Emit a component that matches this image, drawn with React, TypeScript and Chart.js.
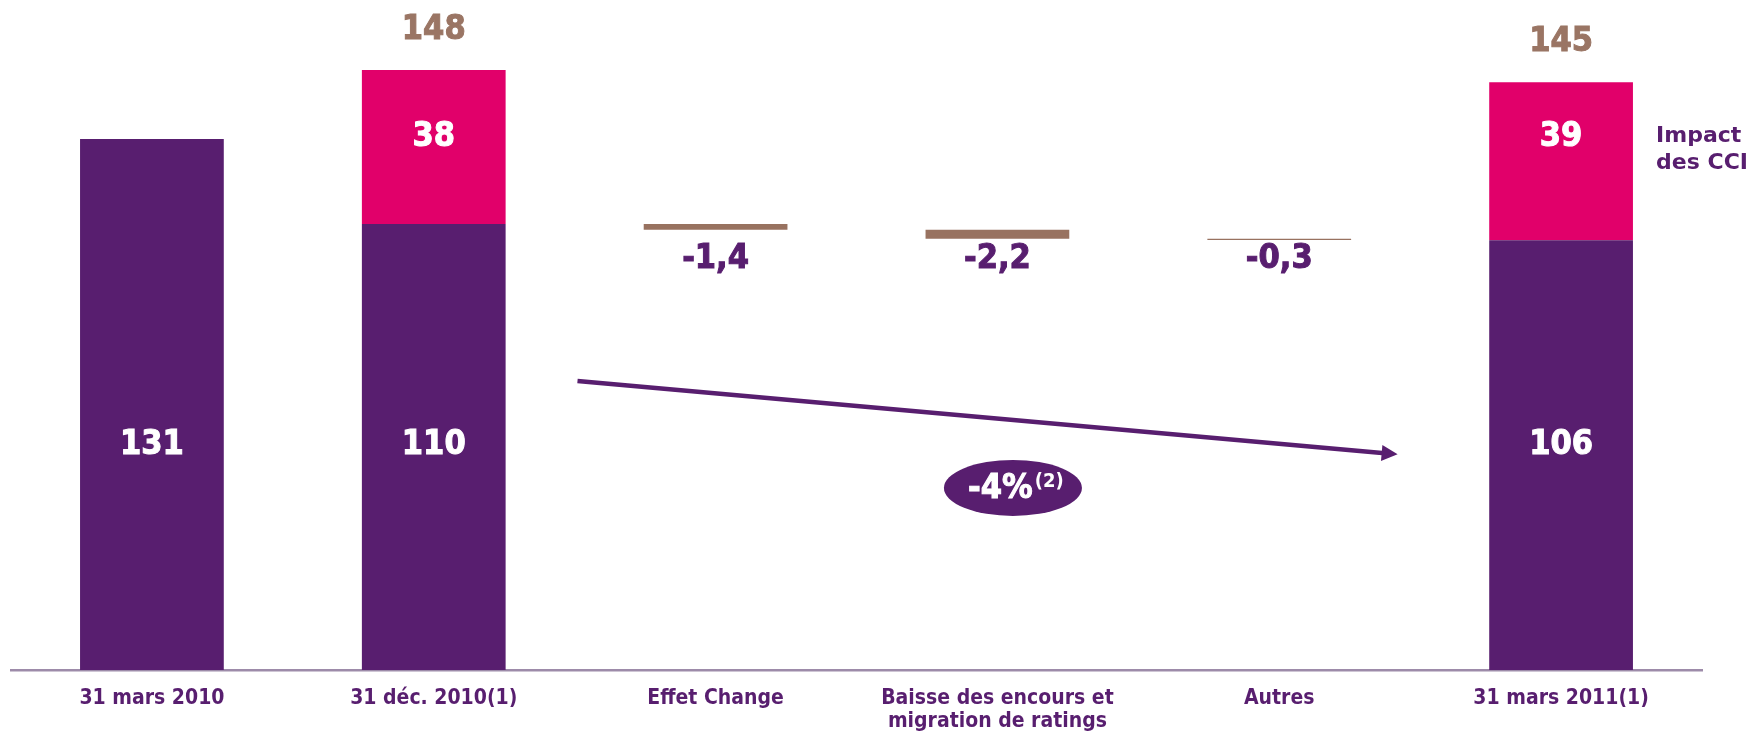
import React, { useEffect, useRef } from 'react';
import { Chart, registerables } from 'chart.js';

Chart.register(...registerables);

// ---- data ----
const categories: (string | string[])[] = [
  '31 mars 2010',
  '31 déc. 2010(1)',
  'Effet Change',
  ['Baisse des encours et', 'migration de ratings'],
  'Autres',
  '31 mars 2011(1)',
];
const baseValues: (number | null)[] = [131, 110, null, null, null, 106];
const cciValues: (number | null)[] = [null, 38, null, null, null, 39];
const totalValues: (number | null)[] = [null, 148, null, null, null, 145];
const changeValues: (number | null)[] = [null, null, -1.4, -2.2, -0.3, null];
const changeLabels: string[] = ['', '', '-1,4', '-2,2', '-0,3', ''];
const cciNote: string[] = ['Impact', 'des CCI'];
const trendLabel = '-4%';
const trendNote = '(2)';

// ---- styles ----
const PURPLE = '#581E6F';
const PINK = '#E1006A';
const BROWN = '#987260';
const BROWN_TEXT = '#9A7564';
const AXIS = '#9D8BA9';
const FONT = "'DejaVu Sans Condensed', 'DejaVu Sans', sans-serif";
const FONT_WIDE = "'DejaVu Sans', sans-serif";

// floating bars for the waterfall steps, starting from the level before CCI
let level = baseValues[1] as number;
const floatData = changeValues.map((v) => {
  if (v == null) return null;
  const start = level;
  level = Math.round((level + v) * 100) / 100;
  return [start, level];
});

function text(
  ctx: CanvasRenderingContext2D,
  s: string,
  x: number,
  y: number,
  font: string,
  color: string,
  align: CanvasTextAlign = 'center',
  heavy = false
) {
  ctx.save();
  ctx.font = font;
  ctx.fillStyle = color;
  ctx.textAlign = align;
  ctx.textBaseline = 'middle';
  ctx.fillText(s, x, y);
  if (heavy) {
    ctx.strokeStyle = color;
    ctx.lineWidth = 1;
    ctx.strokeText(s, x, y);
  }
  ctx.restore();
}

const labelPlugin = {
  id: 'waterfallLabels',
  afterDatasetsDraw(chart: any) {
    const { ctx } = chart;
    const xs = chart.scales.x;
    const ys = chart.scales.y;
    const numFont = `bold 34px ${FONT}`;

    categories.forEach((_, i) => {
      const cx = xs.getPixelForValue(i);
      const b = baseValues[i];
      if (b != null) {
        text(ctx, String(b), cx, ys.getPixelForValue(55.5), numFont, '#ffffff', 'center', true);
      }
      const c = cciValues[i];
      if (c != null && b != null) {
        text(ctx, String(c), cx, ys.getPixelForValue(131.5), numFont, '#ffffff', 'center', true);
      }
      const t = totalValues[i];
      if (t != null) {
        text(ctx, String(t), cx, ys.getPixelForValue(t) - 40, numFont, BROWN_TEXT, 'center', true);
      }
      const f = floatData[i];
      if (f) {
        text(ctx, changeLabels[i], cx, ys.getPixelForValue(101.3), numFont, PURPLE, 'center', true);
      }
    });

    // CCI note
    const nx = xs.getPixelForValue(5) + 95;
    const ny = ys.getPixelForValue(131.6);
    cciNote.forEach((line, k) => {
      text(ctx, line, nx, ny + k * 27, `bold 22px ${FONT_WIDE}`, PURPLE, 'left');
    });

    // trend arrow
    const x0 = xs.getPixelForValue(1.51);
    const y0 = ys.getPixelForValue(71.3);
    const x1 = xs.getPixelForValue(4.42);
    const y1 = ys.getPixelForValue(53.2);
    const ang = Math.atan2(y1 - y0, x1 - x0);
    const head = 16;
    ctx.save();
    ctx.strokeStyle = PURPLE;
    ctx.fillStyle = PURPLE;
    ctx.lineWidth = 4.5;
    ctx.beginPath();
    ctx.moveTo(x0, y0);
    ctx.lineTo(x1 - Math.cos(ang) * head * 0.8, y1 - Math.sin(ang) * head * 0.8);
    ctx.stroke();
    ctx.beginPath();
    ctx.moveTo(x1, y1);
    ctx.lineTo(x1 - Math.cos(ang) * head + Math.sin(ang) * 8, y1 - Math.sin(ang) * head - Math.cos(ang) * 8);
    ctx.lineTo(x1 - Math.cos(ang) * head - Math.sin(ang) * 8, y1 - Math.sin(ang) * head + Math.cos(ang) * 8);
    ctx.closePath();
    ctx.fill();

    // ellipse badge
    const ex = xs.getPixelForValue(3.055);
    const ey = ys.getPixelForValue(44.9);
    ctx.beginPath();
    ctx.ellipse(ex, ey, 69, 28, 0, 0, Math.PI * 2);
    ctx.fill();
    ctx.font = `bold 34px ${FONT}`;
    const w1 = ctx.measureText(trendLabel).width;
    ctx.font = `bold 20px ${FONT}`;
    const w2 = ctx.measureText(trendNote).width;
    const sx = ex - (w1 + w2) / 2 + 2;
    ctx.restore();
    text(ctx, trendLabel, sx, ey + 1, `bold 34px ${FONT}`, '#ffffff', 'left', true);
    text(ctx, trendNote, sx + w1 + 2, ey - 6, `bold 20px ${FONT}`, '#ffffff', 'left');
  },
};

export default function App() {
  const ref = useRef<HTMLCanvasElement | null>(null);

  useEffect(() => {
    if (!ref.current) return;
    const chart = new Chart(ref.current, {
      type: 'bar',
      data: {
        labels: categories as any,
        datasets: [
          { label: 'base', data: baseValues as any, backgroundColor: PURPLE, borderWidth: 0 },
          { label: 'CCI', data: cciValues as any, backgroundColor: PINK, borderWidth: 0 },
          { label: 'change', data: floatData as any, backgroundColor: BROWN, borderWidth: 0 },
        ],
      },
      options: {
        animation: false,
        responsive: true,
        maintainAspectRatio: false,
        datasets: { bar: { barPercentage: 0.51, categoryPercentage: 1 } },
        layout: { padding: { left: 11, right: 49, top: 8, bottom: 0 } },
        plugins: { legend: { display: false }, tooltip: { enabled: false } },
        scales: {
          x: {
            stacked: true,
            grid: { display: false, drawTicks: false },
            border: { display: true, color: AXIS, width: 2.5 },
            ticks: {
              color: PURPLE,
              font: { family: FONT, size: 21, weight: 'bold', lineHeight: 1.05 },
              padding: 18,
              maxRotation: 0,
              autoSkip: false,
            },
            afterFit: (s: any) => {
              s.height = 61;
            },
          },
          y: { stacked: true, display: false, min: 0, max: 163.3 },
        },
      },
      plugins: [labelPlugin],
    });
    return () => chart.destroy();
  }, []);

  return (
    <div style={{ position: 'absolute', left: 0, top: 0, width: 1751, height: 731, background: '#fff' }}>
      <canvas ref={ref} />
    </div>
  );
}
